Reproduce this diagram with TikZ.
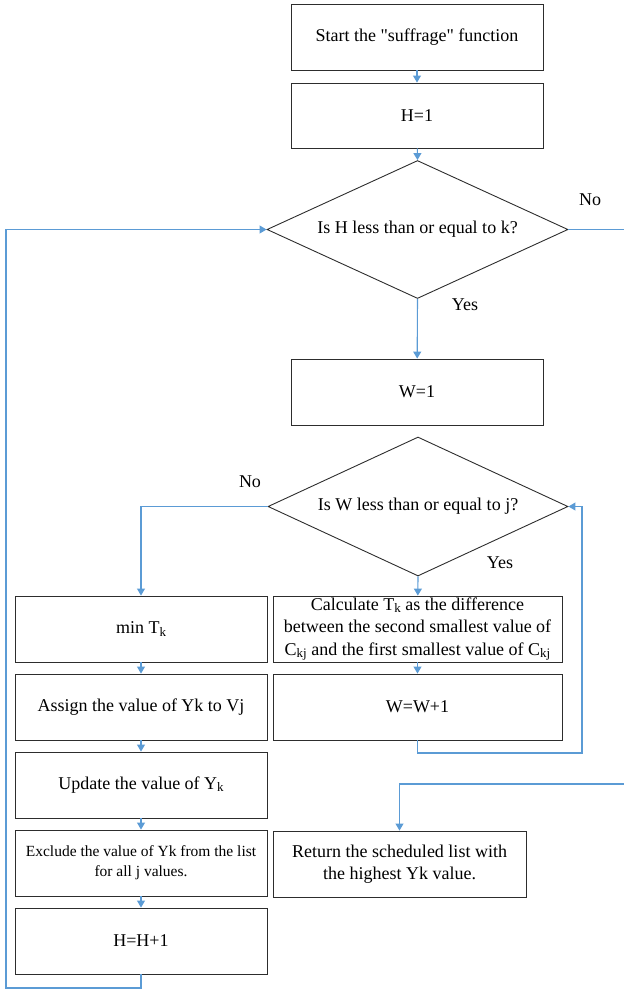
\documentclass[tikz,border=0pt]{standalone}
\usepackage{fontspec}
\setmainfont{Liberation Serif}[Ligatures=TeXOff]
\usetikzlibrary{shapes.geometric,arrows.meta}
\definecolor{flowblue}{RGB}{91,155,213}
\definecolor{boxline}{RGB}{45,45,45}
% smaller, slightly lowered index letters (T_k, C_kj, Y_k)
\newcommand\idx[1]{\raisebox{-0.12em}{\fontsize{13}{13}\selectfont #1}}
\begin{document}
\begin{tikzpicture}[x=1pt,y=-1pt,
  every node/.style={font=\fontsize{18}{22.5}\selectfont, text=black},
  procbox/.style={draw=boxline, line width=0.9pt, minimum width=#1,
    minimum height=66pt, inner sep=0pt, align=center},
  procbox/.default=252pt,
  decision/.style={diamond, shape aspect=2.2, draw=boxline, line width=0.9pt,
    minimum width=301pt, minimum height=138pt, inner sep=0pt},
  flow/.style={draw=flowblue, line width=1.1pt,
    -{Triangle[width=8pt,length=7pt]}},
  lbl/.style={inner sep=0pt}]
\useasboundingbox (0,0) rectangle (624,989);

% main column
\node[procbox] (start) at (417,37) {Start the "suffrage" function};
\node[procbox, minimum height=65pt] (hinit) at (417,115.5) {H=1};
\node[decision] (dh) at (417.5,229.5) {Is H less than or equal to k?};
\node[procbox] (winit) at (417,392) {W=1};
\node[decision, minimum width=300pt, minimum height=139pt] (dw) at (418,506.5) {Is W less than or equal to j?};
\node[procbox=289pt] (calc) at (417.5,629) {Calculate T\idx{k} as the difference\\between the second smallest value of\\C\idx{kj} and the first smallest value of C\idx{kj}};
\node[procbox=289pt] (winc) at (417.5,707) {W=W+1};
\node[procbox=253pt] (ret) at (399.5,864) {Return the scheduled list with\\the highest Yk value.};

% left column
\node[procbox] (minT) at (141,629) {min T\idx{k}};
\node[procbox] (assign) at (141,707) {Assign the value of Yk to Vj};
\node[procbox] (update) at (141,785) {Update the value of Y\idx{k}};
\node[procbox, font=\fontsize{15.5}{20}\selectfont] (excl) at (141,863) {Exclude the value of Yk from the list\\for all j values.};
\node[procbox] (hinc) at (141,941) {H=H+1};

% branch labels
\node[lbl] (noH) at (590,200) {No};
\node[lbl] (yesH) at (465,305) {Yes};
\node[lbl] (noW) at (250,482) {No};
\node[lbl] (yesW) at (500,563) {Yes};

% routing points
\coordinate (outR) at (628,229.5);
\coordinate (retIn) at (399.5,784);
\coordinate (wLoop) at (582,753);
\coordinate (hLoop) at (6,988);

% connectors
\draw[flow] (start) -- (hinit);
\draw[flow] (hinit) -- (dh.north);
\draw[flow] (dh.south) -- (winit);
\draw[flow] (dw.south) -- (calc);
\draw[flow] (calc) -- (winc);
\draw[flow] (winc.south) |- (wLoop) |- (dw.east);
\draw[flow] (dw.west) -| (minT.north);
\draw[flow] (minT) -- (assign);
\draw[flow] (assign) -- (update);
\draw[flow] (update) -- (excl);
\draw[flow] (excl) -- (hinc);
\draw[flow] (hinc.south) |- (hLoop) |- (dh.west);
\draw[flow] (dh.east) -- (outR) |- (retIn) -- (ret.north);
\end{tikzpicture}
\end{document}
